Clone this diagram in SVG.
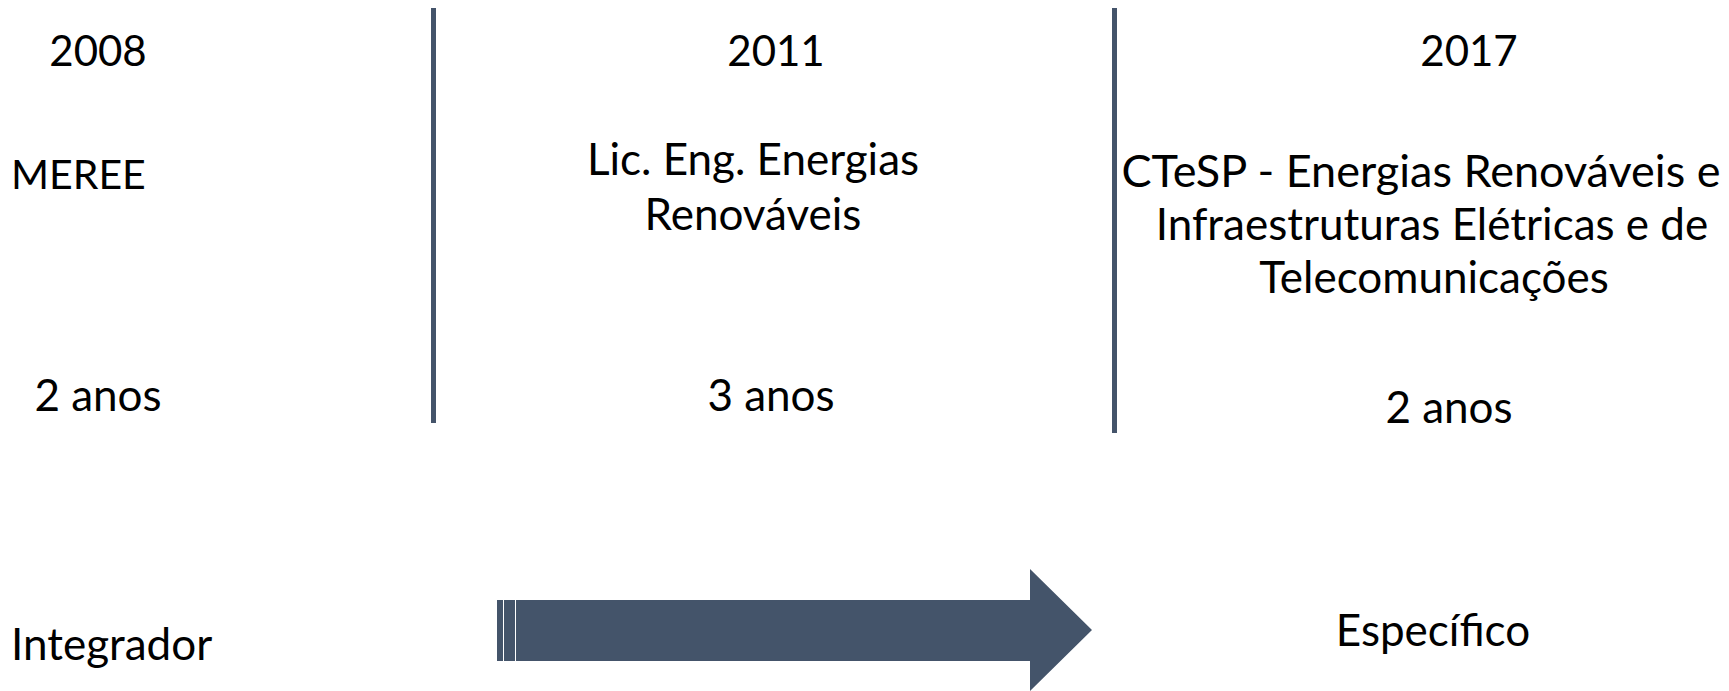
<svg xmlns="http://www.w3.org/2000/svg" width="1729" height="691" viewBox="0 0 1729 691">
<style>
text{font-family:Lato,"Open Sans","Liberation Sans",sans-serif;font-size:44px;fill:#000}
.c{text-anchor:middle}
.yr{font-size:42px}
.sep{stroke:#44546A;stroke-width:5;fill:none}
.arr{fill:#44546A}
</style>
<rect width="1729" height="691" fill="#fff"/>
<g id="connectors">
<line class="sep" x1="433.5" y1="8" x2="433.5" y2="423"/>
<line class="sep" x1="1114.5" y1="8" x2="1114.5" y2="433"/>
</g>
<g id="arrow">
<rect class="arr" x="497" y="600" width="6" height="61"/>
<rect class="arr" x="504" y="600" width="11" height="61"/>
<polygon class="arr" points="516,600 1030,600 1030,569 1092,630 1030,691 1030,661 516,661"/>
</g>
<g id="col2008">
<text class="c yr" x="98" y="66">2008</text>
<text x="11" y="189" style="font-size:41px">MEREE</text>
<text class="c" x="98" y="411">2 anos</text>
<text x="11" y="660">Integrador</text>
</g>
<g id="col2011">
<text class="c yr" x="776" y="66">2011</text>
<text class="c" x="753" y="175">Lic. Eng. Energias</text>
<text class="c" x="753" y="230">Renováveis</text>
<text class="c" x="771" y="411">3 anos</text>
</g>
<g id="col2017">
<text class="c yr" x="1469" y="66">2017</text>
<text class="c" x="1421" y="187" style="font-size:45px">CTeSP - Energias Renováveis e</text>
<text class="c" x="1432" y="240">Infraestruturas Elétricas e de</text>
<text class="c" x="1434" y="293">Telecomunicações</text>
<text class="c" x="1449" y="423">2 anos</text>
<text class="c" x="1433" y="646">Específico</text>
</g>
</svg>
